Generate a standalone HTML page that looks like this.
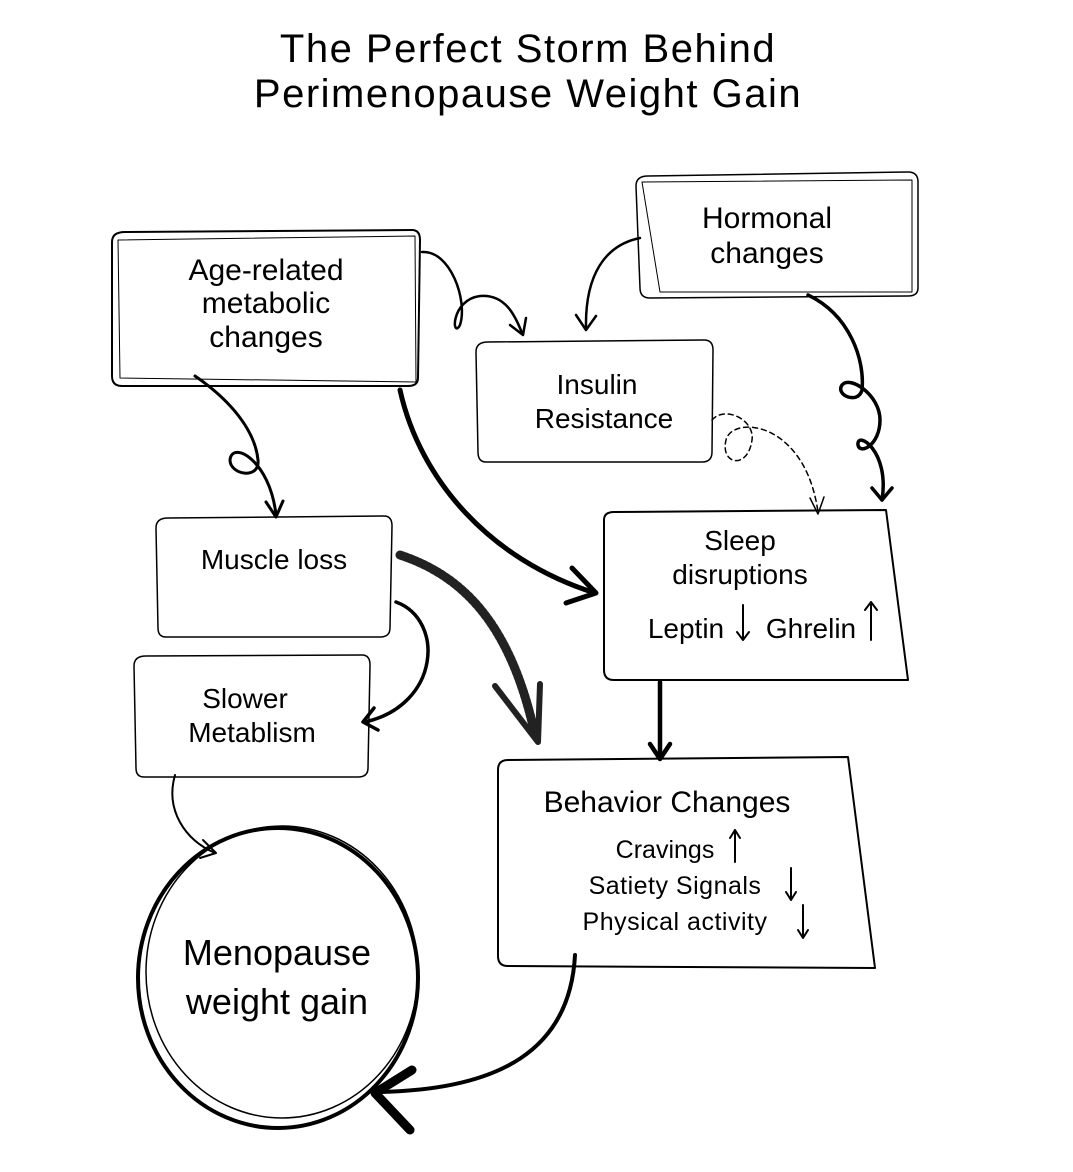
<!DOCTYPE html>
<html><head><meta charset="utf-8"><style>
html,body{margin:0;padding:0;background:#fff;}
svg{display:block}
text{font-family:"Liberation Sans","DejaVu Sans",sans-serif;fill:#000}
</style></head><body>
<svg width="1073" height="1172" viewBox="0 0 1073 1172" xmlns="http://www.w3.org/2000/svg">
<g fill="none" stroke="#000" stroke-linecap="round" stroke-linejoin="round">
<path d="M112 242 Q112 232 125 232 L412 230 Q420 230 420 240 L418 378 Q418 386 408 386 L122 386 Q112 386 112 376 Z" stroke-width="2"/>
<path d="M118 240 L415 236 L416 382 L120 378 Z" stroke-width="1"/>
<path d="M636 186 Q636 176 648 176 L908 172 Q918 172 918 182 L918 288 Q918 296 908 296 L650 298 Q640 298 640 288 Z" stroke-width="1.5"/>
<path d="M642 182 L912 180 L912 292 L660 292 Z" stroke-width="1"/>
<path d="M476 352 Q476 342 488 342 L704 340 Q713 340 713 350 L712 452 Q712 462 702 462 L486 462 Q478 462 478 452 Z" stroke-width="1.5"/>
<path d="M156 528 Q156 518 168 518 L384 516 Q392 516 392 526 L390 628 Q390 637 380 637 L166 637 Q158 637 158 628 Z" stroke-width="1.5"/>
<path d="M134 666 Q134 656 146 656 L362 655 Q370 655 370 665 L368 768 Q368 777 358 777 L144 777 Q136 777 136 768 Z" stroke-width="1.5"/>
<path d="M604 520 Q604 512 614 512 L886 510 L908 680 L614 680 Q604 680 604 670 Z" stroke-width="2"/>
<path d="M498 770 Q498 760 508 760 L848 757 L875 968 L508 966 Q498 966 498 956 Z" stroke-width="2"/>
<ellipse cx="278" cy="978" rx="140" ry="150" stroke-width="4"/>
<ellipse cx="282" cy="972" rx="136" ry="146" stroke-width="1.5"/>
<path d="M422 252 C450 250 468 300 460 325 C452 340 450 300 480 296 C505 294 515 315 522 333" stroke-width="2.5"/>
<path d="M510 325 L523 335 L526 318" stroke-width="2.5"/>
<path d="M640 238 C605 245 585 275 586 328" stroke-width="2.5"/>
<path d="M576 315 L586 330 L596 316" stroke-width="2.5"/>
<path d="M808 295 C850 315 865 360 862 390 C858 405 835 395 842 385 C850 375 880 395 880 420 C880 445 860 455 858 445 C856 430 890 450 882 500" stroke-width="3.5"/>
<path d="M872 488 L882 500 L892 488" stroke-width="3.5"/>
<path d="M712 420 C725 405 755 420 752 440 C748 470 720 465 726 440 C732 415 805 420 818 512" stroke-width="1.5" stroke-dasharray="5,4"/>
<path d="M810 498 L818 514 L824 497" stroke-width="1.5"/>
<path d="M195 376 C230 400 255 430 258 460 C260 480 230 475 230 460 C232 440 270 460 276 515" stroke-width="3"/>
<path d="M266 502 L276 517 L283 501" stroke-width="3"/>
<path d="M400 390 C420 480 490 560 595 593" stroke-width="5"/>
<path d="M572 568 L596 593 L566 603" stroke-width="5"/>
<path d="M400 555 C460 575 510 620 535 735" stroke="#222" stroke-width="9" stroke-dasharray="3,2"/>
<path d="M495 686 L538 742 L540 684" stroke="#222" stroke-width="6"/>
<path d="M396 602 C445 620 440 705 365 722" stroke-width="3.5"/>
<path d="M374 708 L363 722 L378 730" stroke-width="3.5"/>
<path d="M660 682 L660 758" stroke-width="4.5"/>
<path d="M650 744 L660 759 L670 744" stroke-width="4.5"/>
<path d="M175 775 C165 810 185 840 215 853" stroke-width="2"/>
<path d="M203 840 L216 853 L200 858" stroke-width="2"/>
<path d="M575 955 C570 1050 500 1090 378 1092" stroke-width="4"/>
<path d="M412 1070 L375 1093 L410 1130" stroke-width="9"/>
<path d="M743 605 L743 640 M737 632 L743 640 L749 632" stroke-width="2"/>
<path d="M871 640 L871 602 M865 610 L871 602 L877 610" stroke-width="2"/>
<path d="M735 862 L735 830 M730 838 L735 830 L740 838" stroke-width="2"/>
<path d="M791 868 L791 900 M786 892 L791 900 L796 892" stroke-width="2"/>
<path d="M803 905 L803 938 M798 930 L803 938 L808 930" stroke-width="2"/>
</g>
<g text-anchor="middle">
<text x="528" y="62" font-size="40" letter-spacing="1.5">The Perfect Storm Behind</text>
<text x="528" y="107" font-size="40" letter-spacing="1.5">Perimenopause Weight Gain</text>
<text x="266" y="280" font-size="30">Age-related</text>
<text x="266" y="313" font-size="30">metabolic</text>
<text x="266" y="347" font-size="30">changes</text>
<text x="767" y="228" font-size="30">Hormonal</text>
<text x="767" y="263" font-size="30">changes</text>
<text x="597" y="394" font-size="28">Insulin</text>
<text x="604" y="428" font-size="28">Resistance</text>
<text x="274" y="569" font-size="28">Muscle loss</text>
<text x="245" y="708" font-size="28">Slower</text>
<text x="252" y="742" font-size="28">Metablism</text>
<text x="740" y="550" font-size="28">Sleep</text>
<text x="740" y="584" font-size="28">disruptions</text>
<text x="686" y="638" font-size="28">Leptin</text>
<text x="811" y="638" font-size="28">Ghrelin</text>
<text x="667" y="812" font-size="30">Behavior Changes</text>
<text x="665" y="858" font-size="25">Cravings</text>
<text x="675" y="894" font-size="25" letter-spacing="0.5">Satiety Signals</text>
<text x="675" y="930" font-size="25" letter-spacing="0.5">Physical activity</text>
<text x="277" y="965" font-size="36">Menopause</text>
<text x="277" y="1014" font-size="36">weight gain</text>
</g>
</svg>
</body></html>
